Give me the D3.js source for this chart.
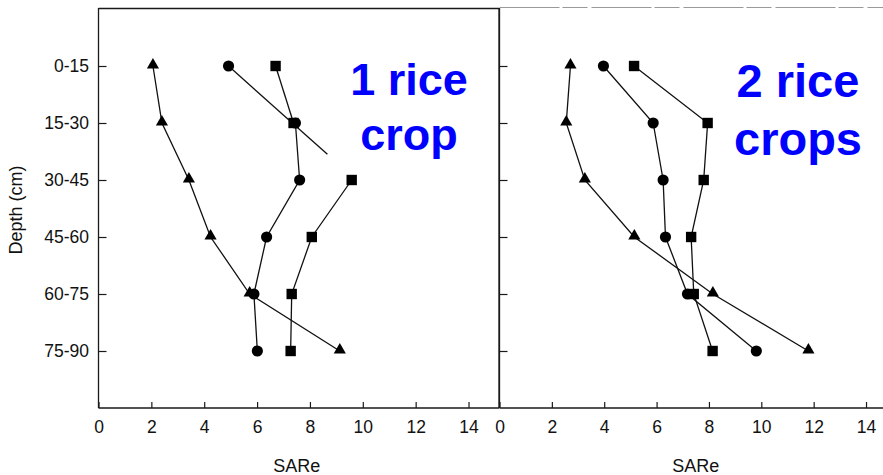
<!DOCTYPE html>
<html>
<head>
<meta charset="utf-8">
<script src="https://cdn.jsdelivr.net/npm/d3@7"></script>
<style>
  html, body { margin: 0; padding: 0; background: #fff; }
  svg { display: block; }
  text { font-family: "Liberation Sans", Arial, sans-serif; fill: #111; }
</style>
</head>
<body>
<svg id="chart" width="883" height="475"></svg>
<script>
// Soil depth layers (cm)
const depths = ["0-15", "15-30", "30-45", "45-60", "60-75", "75-90"];
const xTicks = [0, 2, 4, 6, 8, 10, 12, 14];

// SARe profiles after one rice crop
const oneCropTriangle = [2.06, 2.40, 3.42, 4.24, 5.72, 9.13];
const oneCropCircle   = [4.92, 7.45, 7.61, 6.36, 5.88, 6.01];
const oneCropSquare   = [6.70, 7.38, 9.58, 8.07, 7.31, 7.27];
// connector pieces of the one-crop panel (index ranges that are joined)
const oneCropCircleRuns = [[1, 5]];
const oneCropSquareRuns = [[0, 1], [2, 5]];
const oneCropTriangleRuns = [[0, 5]];
// stray connector leaving the first circle: [SARe, depth position]
const oneCropCircleStray = [[4.92, 1], [8.66, 2.55]];

// SARe profiles after two rice crops
const twoCropTriangle = [2.71, 2.55, 3.26, 5.15, 8.15, 11.80];
const twoCropCircle   = [3.97, 5.87, 6.25, 6.34, 7.18, 9.81];
const twoCropSquare   = [5.14, 7.95, 7.80, 7.32, 7.42, 8.14];

const svg = d3.select("#chart");

const yTop = 9, yBottom = 408;
const y = d3.scaleLinear().domain([0, 7]).range([yTop, yBottom]);
const yCat = (i) => y(i + 1);

const panels = [
  {
    x0: 98.5, x1: 499, unit: 26.43,
    tri: oneCropTriangle, cir: oneCropCircle, sq: oneCropSquare,
    triRuns: oneCropTriangleRuns, cirRuns: oneCropCircleRuns, sqRuns: oneCropSquareRuns,
    stray: oneCropCircleStray,
    title: ["1 rice", "crop"], titleX: 409, titleY: [95, 150], titleSize: 45,
    showYLabels: true, fullFrame: true
  },
  {
    x0: 499.5, x1: 883, unit: 26.18,
    tri: twoCropTriangle, cir: twoCropCircle, sq: twoCropSquare,
    triRuns: [[0, 5]], cirRuns: [[0, 5]], sqRuns: [[0, 5]],
    stray: null,
    title: ["2 rice", "crops"], titleX: 798, titleY: [96.5, 155], titleSize: 47,
    showYLabels: false, fullFrame: false
  }
];

const symTri = d3.symbol().type(d3.symbolTriangle).size(64);
const symCir = d3.symbol().type(d3.symbolCircle).size(98);
const symSq  = d3.symbol().type(d3.symbolSquare).size(108);

panels.forEach(p => {
  const x = d3.scaleLinear().domain([0, 15]).range([p.x0, p.x0 + 15 * p.unit]);
  const g = svg.append("g");

  // frame
  const frame = g.append("g").attr("stroke", "#1a1a1a").attr("stroke-width", 1.3).attr("fill", "none");
  frame.append("line").attr("x1", p.x0).attr("x2", p.x0).attr("y1", 8).attr("y2", yBottom);
  frame.append("line").attr("x1", p.x0).attr("x2", p.x1).attr("y1", yBottom).attr("y2", yBottom);
  if (p.fullFrame) {
    frame.append("line").attr("x1", p.x0).attr("x2", p.x1).attr("y1", 8.5).attr("y2", 8.5);
    frame.append("line").attr("x1", p.x1).attr("x2", p.x1).attr("y1", 8).attr("y2", yBottom);
  } else {
    g.append("line").attr("x1", p.x0).attr("x2", p.x1).attr("y1", 7.5).attr("y2", 7.5)
      .attr("stroke", "#999").attr("stroke-width", 1).attr("stroke-dasharray", "60,3,25,4");
  }

  // x axis
  const xAxis = d3.axisBottom(x).tickValues(xTicks).tickFormat(d3.format("d"))
    .tickSizeInner(-6).tickSizeOuter(0).tickPadding(13);
  const xa = g.append("g").attr("transform", `translate(0,${yBottom})`).call(xAxis);
  xa.select(".domain").remove();
  xa.selectAll(".tick line").attr("stroke", "#1a1a1a").attr("stroke-width", 1.2);
  xa.selectAll(".tick text").attr("font-size", 17.5).attr("fill", "#111")
    .attr("font-family", "'Liberation Sans', Arial, sans-serif");

  // y axis
  const ys = d3.scalePoint().domain(depths).range([yCat(0), yCat(5)]);
  const yAxis = d3.axisLeft(ys).tickSizeInner(-8).tickSizeOuter(0).tickPadding(9.5)
    .tickFormat(p.showYLabels ? (d => d) : () => "");
  const ya = g.append("g").attr("transform", `translate(${p.x0},0)`).call(yAxis);
  ya.select(".domain").remove();
  ya.selectAll(".tick line").attr("stroke", "#1a1a1a").attr("stroke-width", 1.2);
  ya.selectAll(".tick text").attr("font-size", 17.5).attr("fill", "#111")
    .attr("font-family", "'Liberation Sans', Arial, sans-serif");

  // x axis title
  g.append("text").attr("x", x(7.5)).attr("y", 472).attr("text-anchor", "middle")
    .attr("font-size", 18).text("SARe");

  // connecting lines
  const line = d3.line().x(d => x(d[0])).y(d => y(d[1]));
  const lines = g.append("g").attr("fill", "none").attr("stroke", "#111").attr("stroke-width", 1.3);
  const drawRuns = (vals, runs) => runs.forEach(([a, b]) => {
    const pts = vals.slice(a, b + 1).map((v, k) => [v, a + k + 1]);
    lines.append("path").attr("d", line(pts));
  });
  drawRuns(p.tri, p.triRuns);
  drawRuns(p.cir, p.cirRuns);
  drawRuns(p.sq, p.sqRuns);
  if (p.stray) lines.append("path").attr("d", line(p.stray));

  // markers
  const marks = g.append("g").attr("fill", "#000");
  p.tri.forEach((v, i) => marks.append("path").attr("d", symTri)
    .attr("transform", `translate(${x(v)},${yCat(i) - 1})`));
  p.cir.forEach((v, i) => marks.append("path").attr("d", symCir)
    .attr("transform", `translate(${x(v)},${yCat(i)})`));
  p.sq.forEach((v, i) => marks.append("path").attr("d", symSq)
    .attr("transform", `translate(${x(v)},${yCat(i)})`));

  // panel title
  p.title.forEach((t, k) => g.append("text")
    .attr("x", p.titleX).attr("y", p.titleY[k]).attr("text-anchor", "middle")
    .attr("font-size", p.titleSize).attr("font-weight", "bold")
    .style("fill", "#0000ff").text(t));
});

// y axis title
svg.append("text").attr("transform", "translate(22,210) rotate(-90)")
  .attr("text-anchor", "middle").attr("font-size", 18).text("Depth (cm)");
</script>
</body>
</html>
